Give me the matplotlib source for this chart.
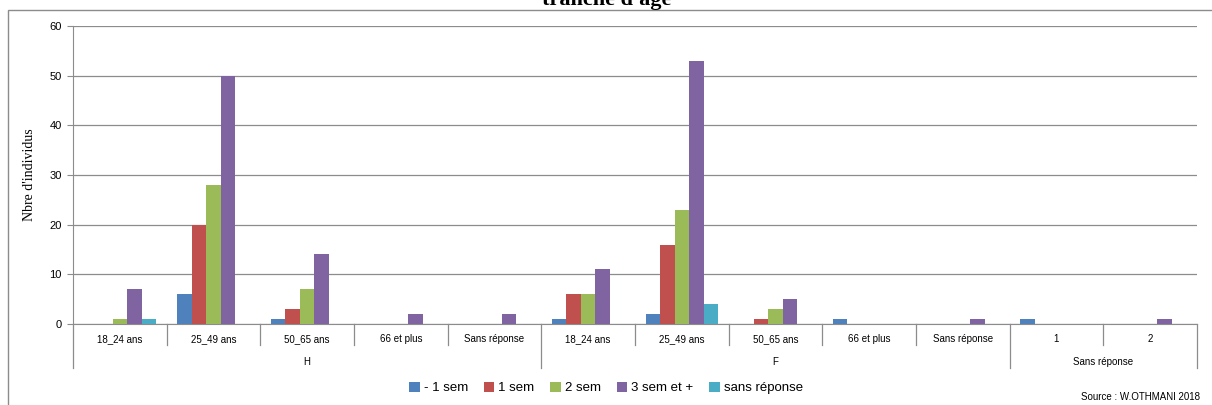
import matplotlib.pyplot as plt
import numpy as np
from matplotlib.patches import Rectangle
from matplotlib.transforms import blended_transform_factory

# categories (sub label, group)
sub_labels = ["18_24 ans", "25_49 ans", "50_65 ans", "66 et plus", "Sans réponse",
              "18_24 ans", "25_49 ans", "50_65 ans", "66 et plus", "Sans réponse",
              "1", "2"]
groups = ["H", "F", "Sans réponse"]
group_sizes = [5, 5, 2]

series = ["- 1 sem", "1 sem", "2 sem", "3 sem et +", "sans réponse"]
moins_1_sem = [0, 6, 1, 0, 0, 1, 2, 0, 1, 0, 1, 0]
un_sem = [0, 20, 3, 0, 0, 6, 16, 1, 0, 0, 0, 0]
deux_sem = [1, 28, 7, 0, 0, 6, 23, 3, 0, 0, 0, 0]
trois_sem_plus = [7, 50, 14, 2, 2, 11, 53, 5, 0, 1, 0, 1]
sans_reponse = [1, 0, 0, 0, 0, 0, 4, 0, 0, 0, 0, 0]
values = [moins_1_sem, un_sem, deux_sem, trois_sem_plus, sans_reponse]
colors = ["#4F81BD", "#C0504D", "#9BBB59", "#8064A2", "#4BACC6"]

sans = ["Liberation Sans", "DejaVu Sans"]
serif = ["Liberation Serif", "DejaVu Serif"]

fig = plt.figure(figsize=(12.12, 4.05), dpi=100)
ax = fig.add_axes([0.0602, 0.2, 0.9274, 0.7358])

# outer chart frame
fig.patches.append(Rectangle((8 / 1212, -0.1), 1.2, 1 - 10 / 405 + 0.1,
                             transform=fig.transFigure, fill=False,
                             edgecolor="#8c8c8c", linewidth=1.0))

n = len(sub_labels)
x = np.arange(n)
w = 0.155
for i, (name, vals, c) in enumerate(zip(series, values, colors)):
    ax.bar(x + (i - 2) * w, vals, w, color=c, label=name, zorder=3)

ax.set_xlim(-0.5, n - 0.5)
ax.set_ylim(0, 60)
ax.set_yticks(range(0, 61, 10))
ax.tick_params(axis="y", labelsize=8, length=4, color="#8c8c8c", pad=4)
for lab in ax.get_yticklabels():
    lab.set_family(sans)
ax.yaxis.grid(True, color="#8c8c8c", linewidth=0.9, zorder=0)
ax.set_xticks([])
for s in ["top", "right"]:
    ax.spines[s].set_visible(False)
ax.spines["left"].set_color("#8c8c8c")
ax.spines["bottom"].set_color("#8c8c8c")
ax.set_ylabel("Nbre d'individus", family=serif, fontsize=10, labelpad=10)

# two-level category axis
tr = blended_transform_factory(ax.transData, ax.transAxes)
ppx = 1 / (0.7358 * 405)
for i, lab in enumerate(sub_labels):
    ax.text(i, -15 * ppx, lab, transform=tr, ha="center", va="center",
            fontsize=7, family=sans)
bounds = np.cumsum([0] + group_sizes) - 0.5
for b in np.arange(-0.5, n, 1.0):
    long = b in bounds
    ax.plot([b, b], [0, -(44 if long else 21) * ppx], transform=tr,
            color="#8c8c8c", linewidth=0.9, clip_on=False)
for g, a, bb in zip(groups, bounds[:-1], bounds[1:]):
    ax.text((a + bb) / 2, -38 * ppx, g, transform=tr, ha="center",
            va="center", fontsize=7, family=sans)

leg = ax.legend(loc="center", bbox_to_anchor=(0.5, 17 / 405), bbox_transform=fig.transFigure,
                ncol=5, frameon=False, fontsize=9.5, handlelength=0.8,
                handleheight=0.8, handletextpad=0.3, columnspacing=1.2,
                prop={"family": sans, "size": 9.5})

fig.text(1 - 12 / 1212, 8 / 405, "Source : W.OTHMANI 2018", ha="right",
         va="center", fontsize=7, family=sans)
fig.text(607 / 1212, 1 - 5 / 405, "tranche d'âge", ha="center", va="baseline",
         fontsize=16, fontweight="bold", family=serif)

fig.savefig("out.png", dpi=100)
